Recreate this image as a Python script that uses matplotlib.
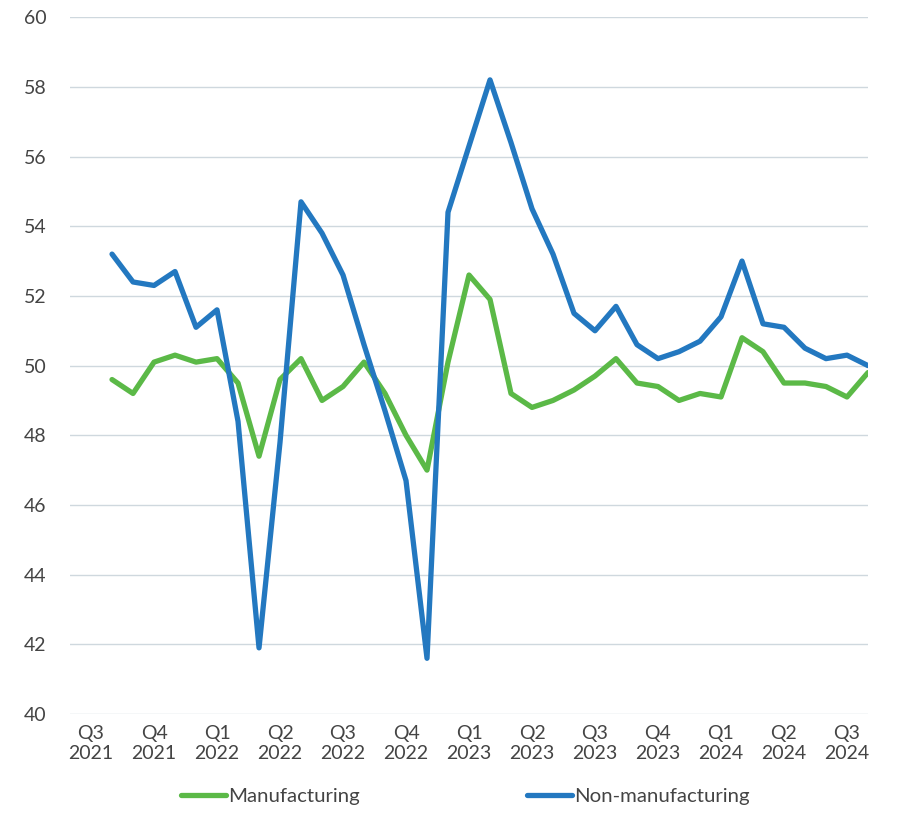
import matplotlib
matplotlib.use('Agg')
import matplotlib.pyplot as plt

# monthly PMI, Sep 2021 - Sep 2024
months = list(range(37))
manufacturing = [49.6, 49.2, 50.1, 50.3, 50.1, 50.2, 49.5, 47.4, 49.6, 50.2, 49.0, 49.4,
                 50.1, 49.2, 48.0, 47.0, 50.1, 52.6, 51.9, 49.2, 48.8, 49.0, 49.3, 49.7,
                 50.2, 49.5, 49.4, 49.0, 49.2, 49.1, 50.8, 50.4, 49.5, 49.5, 49.4, 49.1, 49.8]
non_manufacturing = [53.2, 52.4, 52.3, 52.7, 51.1, 51.6, 48.4, 41.9, 47.8, 54.7, 53.8, 52.6,
                     50.6, 48.7, 46.7, 41.6, 54.4, 56.3, 58.2, 56.4, 54.5, 53.2, 51.5, 51.0,
                     51.7, 50.6, 50.2, 50.4, 50.7, 51.4, 53.0, 51.2, 51.1, 50.5, 50.2, 50.3, 50.0]

# quarter labels sit on the middle month of each quarter
tick_pos = list(range(-1, 37, 3))
tick_labels = ['Q3\n2021', 'Q4\n2021', 'Q1\n2022', 'Q2\n2022', 'Q3\n2022', 'Q4\n2022',
               'Q1\n2023', 'Q2\n2023', 'Q3\n2023', 'Q4\n2023', 'Q1\n2024', 'Q2\n2024', 'Q3\n2024']

plt.rcParams['font.family'] = ['Lato', 'DejaVu Sans']
text_col = '#444444'
green = '#5BB947'
blue = '#2378C0'

fig = plt.figure(figsize=(9.13, 8.17), dpi=100)
ax = fig.add_axes([0.0767, 0.126, 0.874, 0.853])

ax.plot(months, manufacturing, color=green, lw=3.8, label='Manufacturing',
        solid_joinstyle='round', solid_capstyle='round')
ax.plot(months, non_manufacturing, color=blue, lw=3.8, label='Non-manufacturing',
        solid_joinstyle='round', solid_capstyle='round')

ax.set_xlim(-2, 36)
ax.set_ylim(40, 60)
ax.set_yticks(range(40, 61, 2))
ax.set_xticks(tick_pos)
ax.set_xticklabels(tick_labels)
ax.grid(axis='y', color='#cfd8de', lw=1)
ax.set_axisbelow(True)
for s in ax.spines.values():
    s.set_visible(False)
ax.tick_params(length=0, labelsize=14, labelcolor=text_col)
ax.tick_params(axis='y', pad=17)
ax.tick_params(axis='x', pad=8)
for lbl in ax.get_xticklabels():
    lbl.set_linespacing(1.2)

fig.legend(loc='center', bbox_to_anchor=(0.51, 0.025), ncol=2, frameon=False,
           fontsize=14.7, handlelength=2.2, handletextpad=0.1, columnspacing=8.2,
           labelcolor=text_col)

fig.savefig('out.png', dpi=100)
